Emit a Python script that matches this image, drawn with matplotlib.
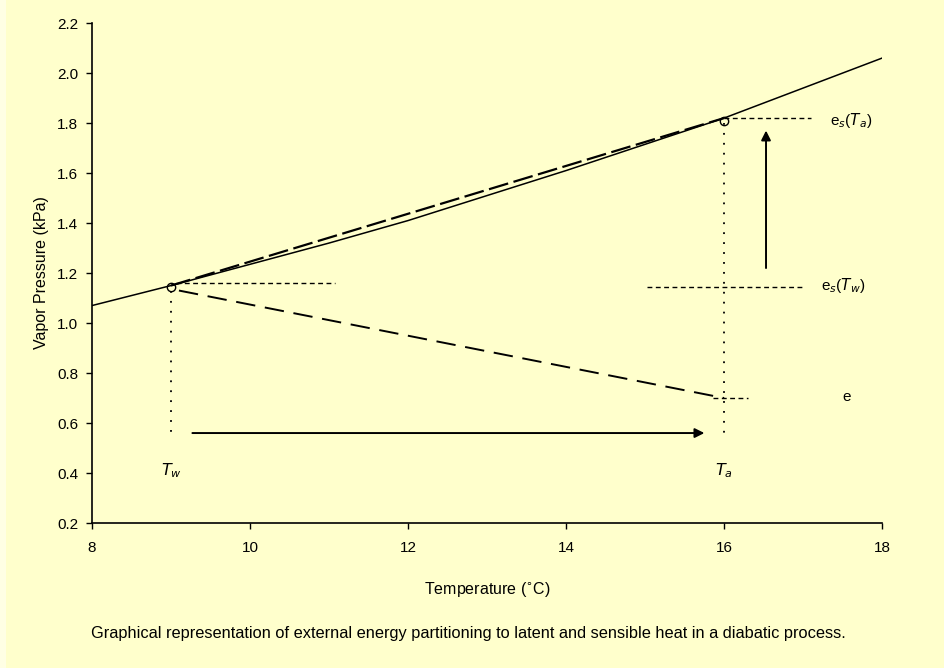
import matplotlib.pyplot as plt
from matplotlib.patches import Rectangle

plt.rcParams['font.family'] = ['Liberation Sans', 'DejaVu Sans']

# saturation vapour pressure curve
temp = [8, 9, 10, 11, 12, 13, 14, 15, 16, 17, 18]
e_sat = [1.07, 1.15, 1.235, 1.32, 1.41, 1.51, 1.61, 1.715, 1.82, 1.94, 2.06]

# chord between the two states and the actual vapour pressure line
chord_t = [9.0, 16.0]
chord_e = [1.15, 1.82]
e_line_t = [9.1, 16.0]
e_line_e = [1.13, 0.70]

# state points
pts_t = [9.0, 16.0]
pts_e = [1.145, 1.81]

# guide lines
hline_y = [1.16, 1.82, 1.145, 0.70]
hline_x0 = [9.06, 16.0, 15.03, 15.86]
hline_x1 = [11.07, 17.1, 17.0, 16.3]
vline_x = [9.0, 16.0]
vline_top = [1.13, 1.80]
vline_bot = 0.56

bg = '#FFFFCC'
fig = plt.figure(figsize=(9.44, 6.68), dpi=100, facecolor=bg)
fig.patches.append(Rectangle((0, 0), 6 / 944, 1, transform=fig.transFigure,
                             facecolor='#FFFFE4', edgecolor='none'))
ax = fig.add_axes([0.0975, 0.217, 0.837, 0.7485])
ax.set_facecolor(bg)

ax.plot(temp, e_sat, color='black', lw=1.1)
ax.plot(chord_t, chord_e, color='black', lw=1.6, linestyle=(0, (9, 2.5)))
ax.plot(e_line_t, e_line_e, color='black', lw=1.4, linestyle=(0, (10, 5)))
ax.plot(pts_t, pts_e, 'o', mfc='none', mec='black', ms=6, mew=1)

for y, x0, x1 in zip(hline_y, hline_x0, hline_x1):
    ax.plot([x0, x1], [y, y], color='black', lw=1, linestyle=(0, (3.5, 2.5)))
for x, top in zip(vline_x, vline_top):
    ax.plot([x, x], [top, vline_bot], color='black', lw=1.3, linestyle=(0, (1, 4.5)))

ax.annotate('', xy=(15.75, 0.56), xytext=(9.27, 0.56),
            arrowprops=dict(arrowstyle='-|>', color='black', lw=1.4,
                            mutation_scale=14, shrinkA=0, shrinkB=0))
ax.annotate('', xy=(16.53, 1.77), xytext=(16.53, 1.22),
            arrowprops=dict(arrowstyle='-|>', color='black', lw=1.4,
                            mutation_scale=14, shrinkA=0, shrinkB=0))

ax.text(17.34, 1.81, r'e$_s$($T_a$)', fontsize=11, va='center', ha='left')
ax.text(17.22, 1.15, r'e$_s$($T_w$)', fontsize=11, va='center', ha='left')
ax.text(17.55, 0.705, 'e', fontsize=11, va='center', ha='center')
ax.text(9.0, 0.41, r'$T_w$', fontsize=11.5, va='center', ha='center')
ax.text(16.0, 0.41, r'$T_a$', fontsize=11.5, va='center', ha='center')

ax.set_xlim(8, 18)
ax.set_ylim(0.2, 2.2)
ax.set_xticks(range(8, 19, 2))
ax.set_yticks([0.2, 0.4, 0.6, 0.8, 1.0, 1.2, 1.4, 1.6, 1.8, 2.0, 2.2])
ax.set_yticklabels(['0.2', '0.4', '0.6', '0.8', '1.0', '1.2', '1.4', '1.6',
                    '1.8', '2.0', '2.2'])
ax.tick_params(direction='out', length=4, width=1, labelsize=11)
ax.tick_params(axis='x', pad=9)
ax.tick_params(axis='y', pad=6)
for s in ['top', 'right']:
    ax.spines[s].set_visible(False)
for s in ['left', 'bottom']:
    ax.spines[s].set_linewidth(1.2)

ax.set_xlabel('Temperature ($^{\\circ}$C)', fontsize=11.5, labelpad=18)
ax.set_ylabel('Vapor Pressure (kPa)', fontsize=11.5, labelpad=6)

fig.text(0.496, 0.052, 'Graphical representation of external energy partitioning to latent '
         'and sensible heat in a diabatic process.', ha='center', va='center', fontsize=11.8)

fig.savefig('out.png', dpi=100, facecolor=bg)
